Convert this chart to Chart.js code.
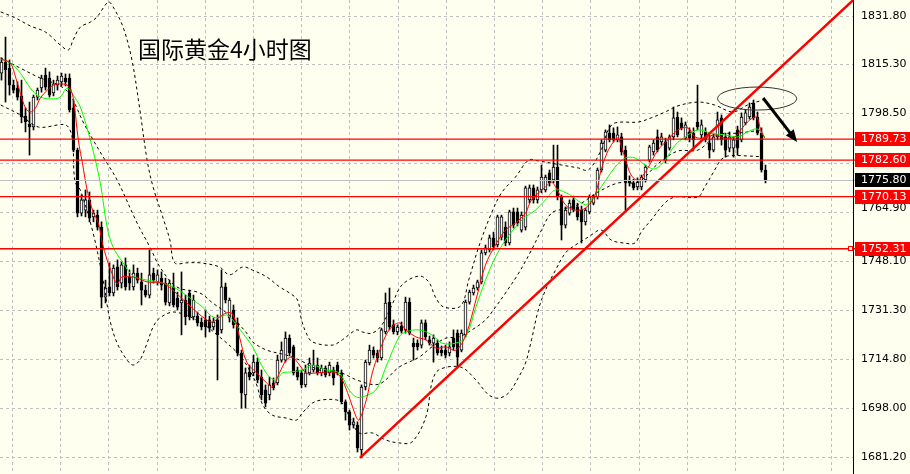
<!DOCTYPE html>
<html>
<head>
<meta charset="utf-8">
<script src="https://cdn.jsdelivr.net/npm/chart.js@4.4.0/dist/chart.umd.min.js"></script>
<style>
  html, body { margin: 0; padding: 0; background: #fffff0; }
  #wrap { width: 910px; height: 474px; }
</style>
</head>
<body>
<div id="wrap"><canvas id="grafico" width="910" height="474"></canvas></div>
<script>
// velas de 4 horas (oro)
const opens = [1812.3,1816.1,1814.0,1808.2,1807.2,1804.5,1797.6,1794.9,1793.9,1804.1,1807.2,1811.6,1810.6,1805.5,1808.2,1809.3,1810.6,1810.6,1800.4,1786.0,
  1764.5,1765.5,1769.0,1763.2,1763.8,1759.7,1735.8,1739.3,1737.2,1746.1,1740.6,1746.8,1742.7,1739.3,1744.0,1741.0,1738.2,1736.5,1744.0,1741.0,
  1742.3,1740.6,1733.8,1739.3,1735.5,1733.8,1734.8,1737.2,1729.0,1729.3,1727.3,1728.0,1728.0,1725.6,1728.0,1724.6,1739.3,1728.7,1731.4,1727.0,
  1716.7,1702.4,1710.2,1709.9,1713.6,1708.5,1704.1,1702.4,1706.5,1706.5,1714.3,1714.3,1721.8,1718.8,1710.9,1709.9,1705.8,1709.9,1710.9,1712.6,
  1709.9,1711.6,1709.9,1710.9,1712.6,1709.9,1700.0,1696.6,1692.1,1692.1,1683.6,1705.1,1713.3,1717.7,1716.7,1715.0,1723.9,1734.1,1726.3,1723.9,
  1725.9,1724.6,1734.1,1720.1,1720.1,1719.4,1727.0,1721.2,1720.1,1720.1,1717.7,1717.7,1716.7,1721.8,1723.5,1717.7,1722.9,1734.1,1737.2,1738.9,
  1741.0,1750.9,1751.9,1756.0,1753.6,1756.3,1759.7,1754.3,1764.9,1764.9,1758.7,1759.7,1769.0,1773.1,1769.0,1772.4,1772.4,1778.2,1775.8,1780.2,
  1770.0,1760.4,1764.5,1769.0,1766.6,1765.5,1761.5,1764.9,1767.9,1770.0,1779.2,1786.0,1791.8,1791.8,1789.5,1790.5,1786.0,1775.8,1774.8,1773.4,
  1773.4,1775.8,1782.6,1785.4,1790.5,1788.8,1788.8,1786.7,1790.5,1797.3,1795.3,1790.1,1792.2,1791.8,1795.6,1791.2,1792.2,1788.4,1786.0,1790.5,
  1797.0,1790.5,1786.7,1786.7,1792.9,1789.5,1795.3,1797.3,1802.1,1797.3,1791.8,1779.2];
const highs = [1817.5,1824.6,1816.8,1809.9,1809.3,1809.9,1800.4,1802.4,1804.8,1807.2,1811.6,1814.0,1812.7,1809.9,1811.3,1812.3,1812.0,1812.0,1803.1,1786.7,
  1770.7,1772.4,1771.7,1765.5,1765.5,1761.5,1741.6,1747.5,1746.8,1748.5,1747.8,1749.2,1745.1,1746.8,1745.7,1744.0,1739.9,1751.9,1745.7,1745.1,
  1744.4,1742.3,1741.6,1744.0,1737.5,1744.4,1736.5,1738.2,1736.5,1730.7,1728.7,1731.4,1729.3,1728.7,1729.7,1745.1,1740.6,1735.5,1733.1,1728.7,
  1717.7,1711.6,1712.6,1716.0,1715.0,1710.9,1705.8,1708.5,1708.2,1716.0,1720.5,1723.9,1722.9,1719.4,1711.9,1710.9,1712.6,1715.0,1717.7,1715.0,
  1712.6,1712.3,1713.6,1711.9,1713.6,1710.9,1700.7,1697.2,1694.5,1693.2,1705.8,1714.3,1719.4,1718.8,1717.7,1725.2,1737.2,1738.9,1728.0,1726.3,
  1727.3,1735.8,1735.5,1721.8,1721.2,1728.0,1728.0,1722.5,1722.9,1721.2,1719.1,1719.4,1720.5,1724.6,1724.6,1724.6,1734.8,1738.2,1739.9,1741.6,
  1751.9,1753.6,1757.0,1758.0,1763.8,1763.8,1761.5,1765.5,1766.2,1766.2,1764.9,1773.7,1774.1,1774.1,1773.4,1780.9,1777.5,1779.2,1787.7,1787.7,
  1770.7,1766.6,1769.0,1770.3,1767.9,1766.9,1766.2,1770.7,1770.7,1779.9,1789.5,1792.9,1794.6,1793.6,1793.9,1791.8,1787.4,1777.2,1776.1,1776.5,
  1777.5,1780.9,1787.7,1789.5,1792.9,1791.8,1790.1,1791.2,1800.7,1799.0,1797.0,1795.6,1793.6,1793.6,1808.2,1796.3,1793.6,1791.2,1791.8,1799.0,
  1798.0,1791.8,1792.2,1790.5,1794.2,1798.7,1799.7,1802.1,1803.1,1799.0,1793.6,1780.9];
const lows = [1809.9,1802.4,1804.8,1805.5,1803.1,1795.3,1792.2,1784.3,1792.9,1803.1,1805.8,1806.5,1804.1,1804.5,1806.5,1807.9,1807.9,1799.0,1785.4,1763.2,
  1763.5,1763.2,1761.5,1761.5,1758.7,1732.1,1733.8,1736.2,1736.2,1738.2,1738.9,1738.2,1738.2,1738.2,1740.6,1733.1,1735.8,1735.5,1740.6,1739.9,
  1738.2,1733.1,1732.8,1732.4,1731.4,1722.9,1726.3,1728.0,1728.0,1725.9,1724.6,1722.2,1723.9,1724.6,1707.5,1723.5,1733.8,1727.3,1725.2,1715.7,
  1697.9,1697.9,1707.5,1708.9,1706.5,1700.7,1698.3,1700.7,1704.1,1705.8,1713.6,1713.6,1715.7,1709.2,1707.5,1704.8,1705.1,1709.2,1710.2,1709.2,
  1708.9,1708.5,1708.9,1705.8,1709.2,1699.3,1693.8,1690.4,1691.1,1682.9,1680.9,1704.1,1712.6,1715.0,1713.6,1714.3,1723.2,1724.6,1723.2,1722.9,
  1723.5,1723.5,1722.9,1714.3,1717.7,1718.4,1721.2,1719.4,1713.6,1716.0,1715.7,1715.0,1715.7,1717.7,1711.9,1717.1,1722.2,1733.4,1736.5,1738.2,
  1740.3,1750.2,1751.2,1751.9,1752.9,1755.3,1753.3,1753.6,1759.4,1760.1,1758.0,1758.7,1767.9,1767.9,1767.9,1771.4,1771.7,1773.7,1774.8,1769.0,
  1755.3,1759.4,1763.8,1764.9,1762.1,1754.3,1760.4,1764.2,1767.3,1769.3,1778.5,1785.4,1788.8,1788.8,1788.8,1784.3,1765.5,1773.7,1772.4,1772.4,
  1772.4,1775.1,1781.9,1784.3,1785.4,1787.7,1781.6,1786.0,1789.5,1790.5,1792.9,1789.5,1788.8,1786.0,1792.9,1790.1,1788.8,1783.3,1785.4,1789.5,
  1787.7,1783.6,1785.4,1783.6,1784.3,1788.8,1794.6,1796.6,1796.3,1791.2,1778.5,1774.8];
const closes = [1816.1,1813.4,1808.2,1806.5,1804.1,1797.3,1795.6,1793.9,1804.1,1806.5,1810.6,1807.5,1804.8,1808.6,1809.9,1811.3,1809.3,1799.7,1786.0,1764.5,
  1769.0,1769.0,1762.8,1764.5,1759.7,1735.8,1738.9,1737.2,1745.7,1739.3,1746.8,1739.3,1740.6,1744.0,1741.6,1738.2,1736.5,1743.4,1741.6,1743.4,
  1739.9,1734.1,1740.6,1733.1,1732.4,1734.8,1729.0,1729.0,1734.8,1727.0,1725.6,1725.6,1725.2,1727.3,1722.9,1739.3,1734.8,1734.8,1726.3,1716.7,
  1703.1,1709.9,1708.5,1713.6,1707.5,1702.4,1699.6,1705.8,1704.8,1714.3,1717.7,1721.8,1716.7,1709.9,1708.5,1705.8,1709.9,1713.3,1712.6,1709.9,
  1711.6,1709.2,1712.6,1708.2,1709.9,1700.0,1696.6,1692.1,1693.2,1684.3,1705.1,1713.6,1717.7,1716.0,1715.0,1724.6,1733.8,1725.6,1723.9,1725.6,
  1724.2,1734.1,1723.5,1718.8,1718.8,1727.0,1722.2,1720.1,1721.8,1716.7,1716.7,1716.0,1718.8,1718.8,1715.3,1723.5,1734.1,1737.5,1738.9,1741.0,
  1750.9,1752.6,1756.0,1752.9,1763.2,1763.2,1754.3,1764.9,1760.4,1761.1,1763.8,1773.1,1773.1,1769.0,1772.4,1776.8,1776.8,1774.8,1780.2,1770.0,
  1760.4,1765.5,1767.9,1765.5,1763.2,1761.5,1765.5,1770.0,1770.0,1779.2,1788.4,1792.2,1789.5,1789.5,1791.2,1785.4,1775.1,1774.8,1773.1,1775.1,
  1776.8,1780.2,1787.1,1788.4,1786.0,1790.5,1782.6,1790.5,1797.0,1791.2,1793.6,1794.6,1790.1,1789.5,1793.9,1794.6,1789.5,1786.0,1790.5,1796.3,
  1789.5,1786.0,1790.5,1789.5,1786.7,1797.3,1798.7,1800.7,1797.0,1791.8,1779.2,1775.8];

// medias moviles [vela, precio]
const maRed = [[-0.2,1817.1],[2.2,1815.7],[3.5,1811.0],[4.7,1805.5],[6.0,1800.4],[7.2,1799.0],[8.5,1800.4],[9.7,1803.8],[11.5,1806.5],[13.0,1808.2],
  [14.7,1808.6],[16.4,1808.2],[17.4,1806.5],[18.2,1801.4],[19.2,1789.5],[20.4,1780.2],[21.4,1772.4],[22.9,1764.9],[24.2,1761.1],[25.2,1754.3],
  [26.4,1748.5],[27.6,1744.0],[28.9,1740.3],[30.1,1742.7],[32.1,1742.7],[33.9,1742.3],[36.4,1741.0],[40.3,1740.6],[42.8,1738.2],[46.3,1733.8],
  [48.8,1730.7],[51.3,1728.0],[52.8,1727.3],[54.5,1729.0],[56.3,1730.4],[57.8,1730.0],[59.5,1722.2],[61.3,1713.6],[63.8,1709.9],[66.3,1706.5],
  [67.7,1705.1],[69.5,1709.9],[71.2,1714.3],[72.7,1715.3],[74.5,1712.6],[76.2,1709.9],[78.7,1709.9],[81.2,1710.2],[83.7,1709.9],[85.2,1707.5],
  [86.9,1701.7],[88.7,1694.8],[89.4,1693.8],[91.2,1700.7],[92.7,1709.9],[94.4,1717.0],[96.9,1724.6],[99.4,1727.0],[101.1,1724.6],[103.6,1722.2],
  [106.1,1721.2],[108.6,1718.4],[111.1,1718.8],[113.6,1717.7],[116.1,1722.9],[118.6,1734.8],[121.0,1746.8],[123.5,1753.6],[126.0,1758.7],[128.5,1761.1],
  [131.0,1764.5],[132.5,1769.0],[136.0,1773.4],[137.5,1775.1],[139.2,1771.7],[141.0,1767.3],[143.5,1765.5],[146.0,1766.2],[148.4,1770.7],[149.9,1779.2],
  [151.7,1786.0],[153.4,1789.5],[154.2,1790.1],[155.9,1783.3],[157.4,1777.5],[159.2,1775.8],[161.6,1779.9],[164.1,1786.0],[166.6,1789.5],[169.1,1792.9],
  [171.6,1793.6],[173.4,1790.5],[175.8,1790.1],[178.3,1791.2],[180.8,1790.1],[183.3,1790.5],[184.8,1792.9],[186.5,1795.6],[188.3,1797.3],[189.0,1797.0],
  [189.8,1792.9],[190.8,1790.1]];
const maGreen = [[-0.2,1817.1],[2.2,1815.7],[4.7,1812.3],[7.2,1807.2],[9.7,1804.1],[13.0,1803.5],[14.7,1804.1],[16.4,1807.2],[17.9,1804.8],[19.7,1800.7],
  [22.2,1789.5],[24.7,1774.8],[26.4,1759.7],[27.9,1752.9],[30.4,1747.5],[32.9,1743.0],[36.4,1741.6],[40.3,1740.6],[43.8,1738.6],[47.1,1735.5],
  [50.3,1732.4],[52.1,1729.7],[53.8,1728.7],[56.3,1729.7],[57.8,1728.0],[60.3,1723.5],[62.8,1718.8],[65.0,1712.6],[67.0,1708.5],[68.7,1707.5],
  [70.2,1709.9],[72.0,1710.2],[75.2,1710.9],[77.7,1712.6],[81.2,1710.9],[84.4,1709.9],[86.9,1704.1],[88.7,1701.7],[90.2,1701.7],[93.6,1704.1],
  [96.1,1711.9],[99.4,1722.2],[101.1,1723.9],[104.4,1724.6],[107.6,1722.9],[110.1,1720.1],[113.6,1720.1],[116.1,1722.2],[118.6,1732.4],[121.0,1741.6],
  [123.5,1749.5],[126.0,1755.3],[128.5,1759.7],[131.0,1763.2],[133.5,1765.5],[136.0,1769.0],[138.5,1772.4],[141.7,1771.0],[146.0,1767.3],[147.4,1769.0],
  [149.9,1773.4],[153.4,1780.2],[155.9,1783.3],[158.4,1783.3],[160.9,1780.9],[163.4,1779.6],[165.9,1782.6],[168.4,1787.7],[170.9,1790.5],[174.1,1792.9],
  [177.3,1791.8],[180.8,1791.2],[184.1,1790.5],[186.5,1792.2],[189.0,1793.2],[190.8,1790.5]];

// bandas de Bollinger
const bbUpper = [[-0.2,1833.2],[3.5,1831.1],[7.2,1828.4],[11.0,1826.3],[14.7,1821.9],[16.7,1820.2],[17.9,1823.6],[19.7,1828.0],[22.2,1829.7],[23.9,1831.5],
  [26.7,1836.6],[27.9,1834.9],[30.4,1828.0],[32.6,1816.8],[34.6,1799.7],[36.4,1782.6],[37.9,1773.4],[40.3,1763.2],[42.1,1755.3],[43.3,1747.5],
  [46.3,1747.5],[49.6,1747.5],[54.5,1746.1],[57.0,1743.4],[60.3,1746.1],[62.8,1745.0],[66.3,1742.7],[69.5,1739.3],[72.0,1737.2],[74.0,1734.8],
  [75.0,1728.0],[76.2,1723.5],[77.7,1720.5],[82.7,1719.4],[85.2,1721.2],[88.7,1724.6],[90.2,1723.9],[92.7,1723.5],[95.1,1726.3],[97.6,1733.1],
  [100.1,1739.9],[104.4,1743.0],[106.8,1741.0],[108.6,1735.5],[110.6,1732.4],[114.8,1732.8],[116.8,1741.6],[119.3,1752.9],[122.5,1764.5],[125.0,1771.4],
  [128.5,1776.8],[131.8,1782.6],[134.2,1782.3],[140.0,1780.9],[144.2,1779.9],[146.7,1779.2],[149.9,1786.0],[151.7,1792.9],[153.4,1795.3],[159.2,1795.6],
  [162.4,1797.0],[165.9,1799.0],[169.1,1801.1],[174.1,1802.4],[178.3,1801.4],[182.8,1799.0],[186.5,1801.4],[190.3,1803.1]];
const bbMiddle = [[-0.2,1817.5],[4.7,1814.0],[9.7,1810.6],[14.7,1807.9],[17.2,1804.8],[20.4,1795.6],[22.9,1789.5],[25.4,1783.7],[28.9,1775.8],[33.9,1761.1],
  [37.1,1752.9],[39.6,1746.1],[43.8,1739.3],[49.6,1737.2],[52.8,1733.8],[56.3,1730.4],[58.8,1727.3],[61.3,1723.5],[62.8,1720.5],[66.3,1717.7],
  [71.2,1716.0],[74.5,1714.3],[79.5,1710.9],[84.4,1710.2],[89.4,1707.2],[94.4,1706.1],[99.4,1711.9],[104.4,1715.3],[107.6,1718.8],[111.1,1721.8],
  [114.3,1722.2],[117.6,1724.6],[121.0,1728.0],[123.5,1732.4],[126.0,1737.2],[129.3,1744.0],[132.5,1751.9],[135.0,1758.7],[137.5,1764.5],[140.5,1765.9],
  [144.2,1767.3],[149.2,1771.7],[154.2,1774.8],[159.2,1775.1],[164.1,1781.3],[169.1,1785.7],[174.1,1786.0],[179.1,1791.2],[184.1,1791.8],[190.3,1792.9]];
const bbLower = [[-0.2,1801.4],[4.7,1798.0],[9.2,1793.9],[16.7,1793.9],[18.4,1775.1],[19.7,1772.4],[22.9,1757.7],[25.4,1741.6],[27.1,1728.0],[28.9,1720.1],
  [31.4,1714.3],[32.9,1712.6],[34.6,1714.3],[36.4,1720.1],[37.9,1725.6],[39.6,1728.7],[43.3,1730.7],[49.6,1727.3],[54.5,1722.2],[59.5,1716.0],
  [62.0,1710.9],[63.8,1705.8],[65.3,1699.0],[67.7,1695.5],[71.2,1694.5],[73.7,1693.8],[75.2,1696.2],[77.7,1699.6],[80.2,1700.7],[83.7,1700.7],
  [85.2,1699.6],[87.4,1693.8],[89.4,1689.4],[92.7,1689.4],[96.1,1687.0],[99.4,1686.0],[102.6,1686.3],[106.1,1694.9],[107.6,1706.5],[109.3,1710.9],
  [114.8,1711.9],[118.6,1707.5],[121.8,1702.4],[124.3,1701.3],[126.8,1703.1],[129.3,1708.5],[131.0,1713.3],[132.5,1721.2],[134.2,1731.4],[136.0,1738.2],
  [138.5,1745.0],[141.0,1750.9],[143.5,1753.6],[146.7,1756.3],[149.9,1758.7],[152.4,1755.3],[155.4,1754.3],[158.4,1754.3],[159.9,1758.0],[162.4,1762.1],
  [165.9,1768.0],[168.4,1770.0],[174.1,1770.0],[175.8,1773.4],[178.3,1779.2],[179.8,1782.6],[181.6,1784.0],[186.5,1784.0],[190.3,1783.7]];

// eje de precios y niveles
const priceTicks = [1831.8, 1815.3, 1798.5, 1781.7, 1764.9, 1748.1, 1731.3, 1714.8, 1698.0, 1681.2];
const levels = [1789.73, 1782.60, 1770.13, 1752.31];
const lastPrice = 1775.80;
const trendLine = [[89.6, 1680.9], [212.9, 1837.2]];
const ellipse = { x: 188.9, y: 1803.6, rx: 9.9, ry: 3.93 };
const arrow = [[190.4, 1803.8], [198.9, 1788.8]];
const title = '国际黄金4小时图';

const BG = '#fffff0';
const toPts = arr => arr.map(p => ({ x: p[0], y: p[1] }));
const velas = opens.map((o, i) => i);

const fondo = {
  id: 'fondo',
  beforeDraw(chart) {
    const { ctx, chartArea: a, scales: { x, y } } = chart;
    ctx.save();
    ctx.fillStyle = BG;
    ctx.fillRect(0, 0, chart.width, chart.height);
    ctx.strokeStyle = '#c0c0c0';
    ctx.lineWidth = 1;
    ctx.setLineDash([3, 3]);
    priceTicks.forEach(v => {
      const py = Math.round(y.getPixelForValue(v)) + 0.5;
      ctx.beginPath();
      ctx.moveTo(a.left, py);
      ctx.lineTo(a.right, py);
      ctx.stroke();
    });
    for (let k = 0; k < 40; k++) {
      const px = Math.round(x.getPixelForValue(2.625 + 12.05 * k)) + 0.5;
      if (px > a.right) break;
      ctx.beginPath();
      ctx.moveTo(px, a.top);
      ctx.lineTo(px, a.bottom);
      ctx.stroke();
    }
    ctx.restore();
  }
};

const extras = {
  id: 'extras',
  afterDatasetsDraw(chart) {
    const { ctx, chartArea: a, scales: { x, y } } = chart;
    ctx.save();
    ctx.lineWidth = 1;
    // linea de precio actual
    let py = Math.round(y.getPixelForValue(lastPrice)) + 0.5;
    ctx.strokeStyle = '#c0c0c0';
    ctx.beginPath(); ctx.moveTo(a.left, py); ctx.lineTo(a.right + 2, py); ctx.stroke();
    // niveles horizontales
    ctx.strokeStyle = '#ff0000';
    ctx.lineWidth = 1.3;
    levels.forEach(v => {
      py = y.getPixelForValue(v);
      ctx.beginPath(); ctx.moveTo(a.left, py); ctx.lineTo(a.right + 2, py); ctx.stroke();
    });
    ctx.lineWidth = 1;
    // elipse
    const cx = x.getPixelForValue(ellipse.x);
    const cy = y.getPixelForValue(ellipse.y);
    const rx = x.getPixelForValue(ellipse.x + ellipse.rx) - cx;
    const ry = y.getPixelForValue(ellipse.y - ellipse.ry) - cy;
    ctx.strokeStyle = '#333333';
    ctx.beginPath(); ctx.ellipse(cx, cy, rx, ry, 0, 0, Math.PI * 2); ctx.stroke();
    // flecha
    const x1 = x.getPixelForValue(arrow[0][0]), y1 = y.getPixelForValue(arrow[0][1]);
    const x2 = x.getPixelForValue(arrow[1][0]), y2 = y.getPixelForValue(arrow[1][1]);
    const ang = Math.atan2(y2 - y1, x2 - x1);
    const head = 12;
    ctx.strokeStyle = '#000';
    ctx.fillStyle = '#000';
    ctx.lineWidth = 3;
    ctx.beginPath();
    ctx.moveTo(x1, y1);
    ctx.lineTo(x2 - Math.cos(ang) * head * 0.8, y2 - Math.sin(ang) * head * 0.8);
    ctx.stroke();
    ctx.beginPath();
    ctx.moveTo(x2, y2);
    ctx.lineTo(x2 - Math.cos(ang) * head + Math.sin(ang) * 5, y2 - Math.sin(ang) * head - Math.cos(ang) * 5);
    ctx.lineTo(x2 - Math.cos(ang) * head - Math.sin(ang) * 5, y2 - Math.sin(ang) * head + Math.cos(ang) * 5);
    ctx.closePath();
    ctx.fill();
    // titulo
    ctx.fillStyle = '#000';
    ctx.font = '23px "Noto Sans CJK SC"';
    ctx.textBaseline = 'alphabetic';
    ctx.fillText(title, 138, 58);
    ctx.restore();
  },
  afterDraw(chart) {
    const { ctx, chartArea: a, scales: { y } } = chart;
    ctx.save();
    ctx.strokeStyle = '#000';
    ctx.lineWidth = 1;
    ctx.beginPath();
    ctx.moveTo(a.right + 0.5, 0);
    ctx.lineTo(a.right + 0.5, chart.height);
    ctx.stroke();
    ctx.font = '11px "DejaVu Sans"';
    ctx.textBaseline = 'middle';
    ctx.fillStyle = '#000';
    priceTicks.forEach(v => {
      let py = Math.round(y.getPixelForValue(v));
      if (v === 1764.9) py -= 4;
      ctx.fillText(v.toFixed(2), a.right + 8, py + 0.5);
    });
    const box = (v, color) => {
      const py = Math.round(y.getPixelForValue(v));
      ctx.fillStyle = color;
      ctx.fillRect(a.right + 2, py - 7, chart.width - a.right - 2, 14);
      ctx.fillStyle = '#fff';
      ctx.fillText(v.toFixed(2), a.right + 8, py + 0.5);
    };
    levels.forEach(v => box(v, '#ff0000'));
    box(lastPrice, '#000');
    // marca del nivel 1752.31
    const pm = Math.round(y.getPixelForValue(levels[3]));
    ctx.fillStyle = '#fff';
    ctx.strokeStyle = '#ff0000';
    ctx.fillRect(a.right - 4.5, pm - 2.5, 4, 4);
    ctx.strokeRect(a.right - 4.5, pm - 2.5, 4, 4);
    ctx.restore();
  }
};

const lineDs = (data, color, dash, order) => ({
  type: 'line',
  data: toPts(data),
  borderColor: color,
  borderWidth: 1,
  borderDash: dash,
  pointRadius: 0,
  tension: 0.35,
  order: order
});

new Chart(document.getElementById('grafico'), {
  type: 'bar',
  data: {
    datasets: [
      {
        data: velas.map(i => ({ x: i, y: [lows[i], highs[i]] })),
        backgroundColor: '#000',
        barThickness: 1,
        grouped: false,
        order: 10
      },
      {
        data: velas.map(i => ({ x: i, y: [opens[i], closes[i]] })),
        backgroundColor: velas.map(i => closes[i] >= opens[i] ? '#ffffff' : '#000000'),
        borderColor: '#000',
        borderWidth: 1,
        borderSkipped: false,
        barThickness: 3,
        grouped: false,
        order: 9
      },
      lineDs(bbUpper, '#000', [3, 3], 6),
      lineDs(bbMiddle, '#000', [3, 3], 6),
      lineDs(bbLower, '#000', [3, 3], 6),
      lineDs(maGreen, '#00ff00', [], 5),
      lineDs(maRed, '#ff0000', [], 4),
      {
        type: 'line',
        data: toPts(trendLine),
        borderColor: '#ff0000',
        borderWidth: 2.5,
        pointRadius: 0,
        order: 1
      }
    ]
  },
  options: {
    responsive: false,
    animation: false,
    devicePixelRatio: 1,
    layout: { padding: { left: 0, top: 0, right: 57, bottom: 0 } },
    scales: {
      x: { type: 'linear', offset: false, min: -0.375, max: 212.875, display: false, grid: { offset: false } },
      y: { min: 1675.39, max: 1837.26, display: false }
    },
    plugins: {
      legend: { display: false },
      tooltip: { enabled: false }
    }
  },
  plugins: [fondo, extras]
});
</script>
</body>
</html>
